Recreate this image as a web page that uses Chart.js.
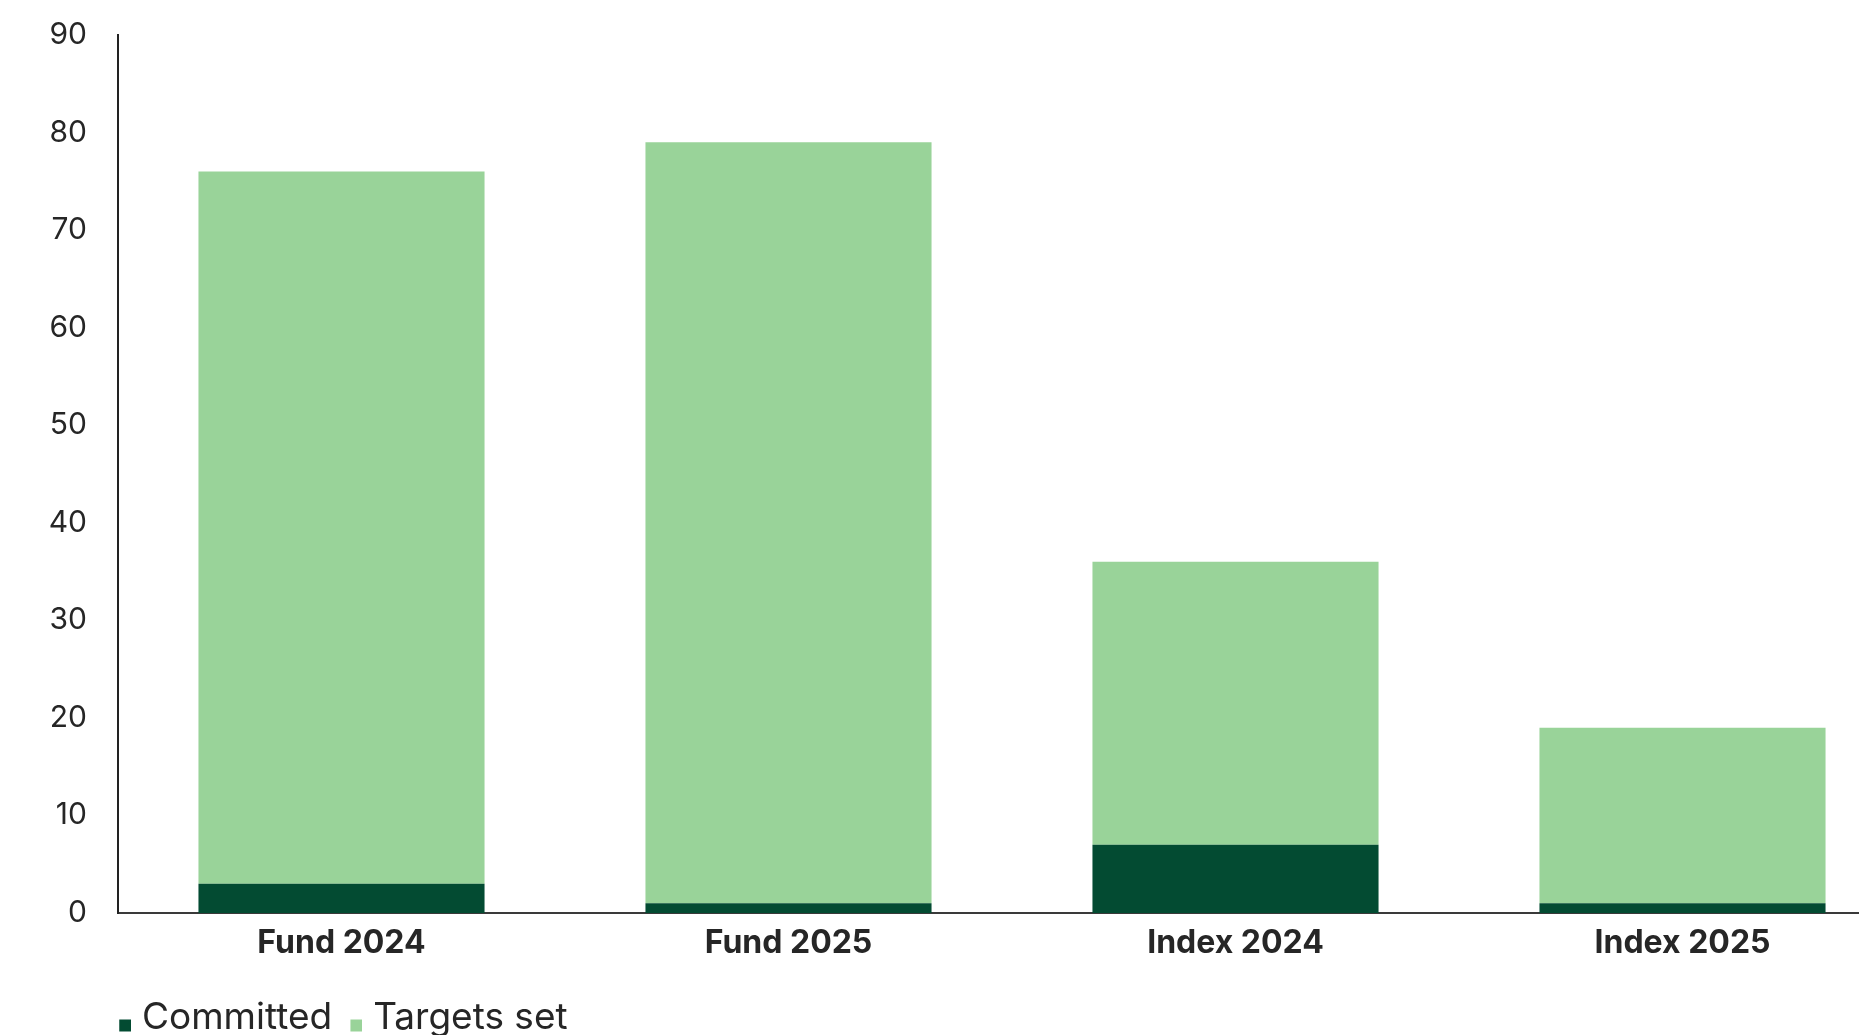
<!DOCTYPE html>
<html>
<head>
<meta charset="utf-8">
<script src="https://cdn.jsdelivr.net/npm/chart.js@4"></script>
<style>
    html, body { margin: 0; padding: 0; background: #ffffff; overflow: hidden; }
    #wrap { width: 1906px; height: 1046px; }
</style>
</head>
<body>
<div id="wrap"><canvas id="graph" width="1906" height="1046"></canvas></div>
<script>
// chart values
var categories = ["Fund 2024", "Fund 2025", "Index 2024", "Index 2025"]
var committed = [3, 1, 7, 1]
var targetsSet = [73, 78, 29, 18]
var seriesNames = ["Committed", "Targets set"]
var yTicks = [0, 10, 20, 30, 40, 50, 60, 70, 80, 90]

var darkGreen = "#034b32"
var lightGreen = "#99d399"
var textColor = "#262626"

// small square drawn low in its box, so it sits on the text baseline
function legendSquare(color) {
    var c = document.createElement("canvas")
    c.width = 20
    c.height = 40
    var ctx = c.getContext("2d")
    ctx.fillStyle = color
    ctx.fillRect(8, 22, 12, 12)
    return c
}
var squares = [legendSquare(darkGreen), legendSquare(lightGreen)]

// moves the legend so it starts under the y axis line
var legendShift = {
    id: "legendShift",
    afterLayout: function (chart) {
        chart.legend.left = chart.chartArea.left - 17
    }
}

var data = {
    labels: categories,
    datasets: [
        { label: seriesNames[0], data: committed, backgroundColor: darkGreen, barPercentage: 0.64, categoryPercentage: 1 },
        { label: seriesNames[1], data: targetsSet, backgroundColor: lightGreen, barPercentage: 0.64, categoryPercentage: 1 }
    ]
}

var options = {
    responsive: false,
    animation: false,
    layout: { padding: { top: 35, right: 0, left: 0, bottom: 0 } },
    scales: {
        x: {
            stacked: true,
            grid: { display: false, drawTicks: false },
            border: { display: true, color: "#3a3a3a", width: 2 },
            ticks: {
                color: textColor,
                padding: 11,
                font: { family: "Inter", size: 32, weight: "bold" }
            },
            afterFit: function (scale) { scale.height = 68 }
        },
        y: {
            stacked: true,
            min: 0,
            max: 90,
            afterBuildTicks: function (scale) {
                scale.ticks = yTicks.map(function (v) { return { value: v } })
            },
            grid: { display: false, drawTicks: false },
            border: { display: true, color: "#222222", width: 2 },
            ticks: {
                color: textColor,
                padding: 31,
                font: { family: "Inter", size: 30 }
            },
            afterFit: function (scale) {
                scale.width = 118
                scale.paddingTop = 0
                scale.paddingBottom = 0
            }
        }
    },
    plugins: {
        tooltip: { enabled: false },
        legend: {
            position: "bottom",
            align: "start",
            labels: {
                usePointStyle: true,
                boxWidth: 4.5,
                padding: 18,
                color: textColor,
                font: { family: "Inter", size: 37 },
                generateLabels: function (chart) {
                    var items = Chart.defaults.plugins.legend.labels.generateLabels(chart)
                    items.forEach(function (item, i) { item.pointStyle = squares[i] })
                    return items
                }
            }
        }
    }
}

var graph = new Chart(document.getElementById("graph"), {
    type: "bar",
    data: data,
    options: options,
    plugins: [legendShift]
})
</script>
</body>
</html>
